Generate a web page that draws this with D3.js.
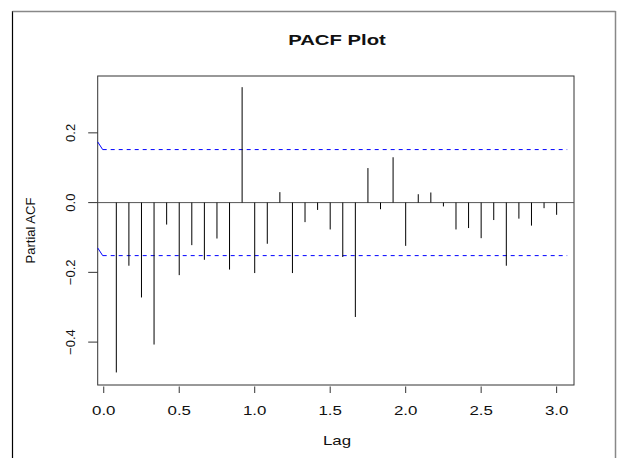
<!DOCTYPE html>
<html>
<head>
<meta charset="utf-8">
<script src="https://cdn.jsdelivr.net/npm/d3@7"></script>
<style>
  body { margin: 0; background: #fff; }
  text { font-family: "Liberation Sans", Arial, sans-serif; fill: #111; }
</style>
</head>
<body>
<div id="content"></div>
<script>
const svgWidth = 620, svgHeight = 458;

// PACF values, lags 1..36 (monthly series, lag in years)
const lagSteps = d3.range(1, 37);
const pacfValues = [
  -0.487, -0.181, -0.272, -0.407, -0.063, -0.208, -0.122, -0.164, -0.103, -0.192,
   0.331, -0.202, -0.118,  0.030, -0.202, -0.056, -0.021, -0.077, -0.156, -0.328,
   0.099, -0.019,  0.130, -0.124,  0.024,  0.029, -0.011, -0.077, -0.073, -0.102,
  -0.050, -0.181, -0.046, -0.066, -0.016, -0.035
];
const confLimit = 0.152;
const xTicks = [0, 0.5, 1, 1.5, 2, 2.5, 3];
const yTicks = [-0.4, -0.2, 0, 0.2];

const box = {left: 97.7, right: 574, top: 76, bottom: 385};
const sx = 1.3; // horizontal stretch of the text in the picture

const x = d3.scaleLinear().domain([-0.04, 3.115]).range([box.left, box.right]);
const y = d3.scaleLinear().domain([-0.523, 0.363]).range([box.bottom, box.top]);

const svg = d3.select("#content").append("svg")
  .attr("width", svgWidth)
  .attr("height", svgHeight);

// outer frame
svg.append("line").attr("x1", 12.5).attr("x2", 12.5).attr("y1", 11).attr("y2", svgHeight)
  .attr("stroke", "#000").attr("stroke-width", 1.2);
svg.append("line").attr("x1", 12.5).attr("x2", 615.5).attr("y1", 11.5).attr("y2", 11.5)
  .attr("stroke", "#888").attr("stroke-width", 1.5);
svg.append("line").attr("x1", 615.5).attr("x2", 615.5).attr("y1", 11).attr("y2", svgHeight)
  .attr("stroke", "#888").attr("stroke-width", 1.5);

// plot box
svg.append("rect")
  .attr("x", box.left).attr("y", box.top)
  .attr("width", box.right - box.left).attr("height", box.bottom - box.top)
  .attr("fill", "none").attr("stroke", "#333").attr("stroke-width", 1);

// zero line
svg.append("line")
  .attr("x1", box.left).attr("x2", box.right)
  .attr("y1", y(0)).attr("y2", y(0))
  .attr("stroke", "#555").attr("stroke-width", 1);

// confidence limits
[confLimit, -confLimit].forEach(c => {
  svg.append("line")
    .attr("x1", box.left).attr("x2", box.left + 5)
    .attr("y1", y(c + 0.022)).attr("y2", y(c))
    .attr("stroke", "#0000ff").attr("stroke-width", 1);
  svg.append("line")
    .attr("x1", box.left + 5).attr("x2", x(3.07))
    .attr("y1", y(c)).attr("y2", y(c))
    .attr("stroke", "#0000ff").attr("stroke-width", 1)
    .attr("stroke-dasharray", "4,4");
});

// spikes
const spikes = lagSteps.map((k, i) => ({lag: k / 12, v: pacfValues[i]}));
svg.selectAll("line.spike")
  .data(spikes).enter().append("line")
  .attr("class", "spike")
  .attr("x1", d => x(d.lag)).attr("x2", d => x(d.lag))
  .attr("y1", y(0)).attr("y2", d => y(d.v))
  .attr("stroke", "#000").attr("stroke-width", 1);

// y axis
svg.selectAll("line.ytick")
  .data(yTicks).enter().append("line")
  .attr("class", "ytick")
  .attr("x1", box.left - 9.5).attr("x2", box.left)
  .attr("y1", d => y(d)).attr("y2", d => y(d))
  .attr("stroke", "#333");
svg.selectAll("text.ylab")
  .data(yTicks).enter().append("text")
  .attr("class", "ylab")
  .attr("transform", d => `translate(75,${y(d)}) rotate(-90)`)
  .attr("text-anchor", "middle")
  .attr("font-size", 13)
  .text(d => d3.format(".1f")(d));

// x axis
svg.selectAll("line.xtick")
  .data(xTicks).enter().append("line")
  .attr("class", "xtick")
  .attr("x1", d => x(d)).attr("x2", d => x(d))
  .attr("y1", box.bottom + 1.5).attr("y2", box.bottom + 8)
  .attr("stroke", "#333");
svg.selectAll("text.xlab")
  .data(xTicks).enter().append("text")
  .attr("class", "xlab")
  .attr("transform", d => `translate(${x(d)},414.5) scale(${sx},1)`)
  .attr("text-anchor", "middle")
  .attr("font-size", 13)
  .text(d => d3.format(".1f")(d));

// titles
svg.append("text")
  .attr("transform", `translate(337,45) scale(1.45,1)`)
  .attr("text-anchor", "middle")
  .attr("font-size", 14).attr("font-weight", "bold")
  .text("PACF Plot");
svg.append("text")
  .attr("transform", `translate(337,445) scale(${sx},1)`)
  .attr("text-anchor", "middle")
  .attr("font-size", 13)
  .text("Lag");
svg.append("text")
  .attr("transform", `translate(35,230.5) rotate(-90)`)
  .attr("text-anchor", "middle")
  .attr("font-size", 13)
  .text("Partial ACF");
</script>
</body>
</html>
